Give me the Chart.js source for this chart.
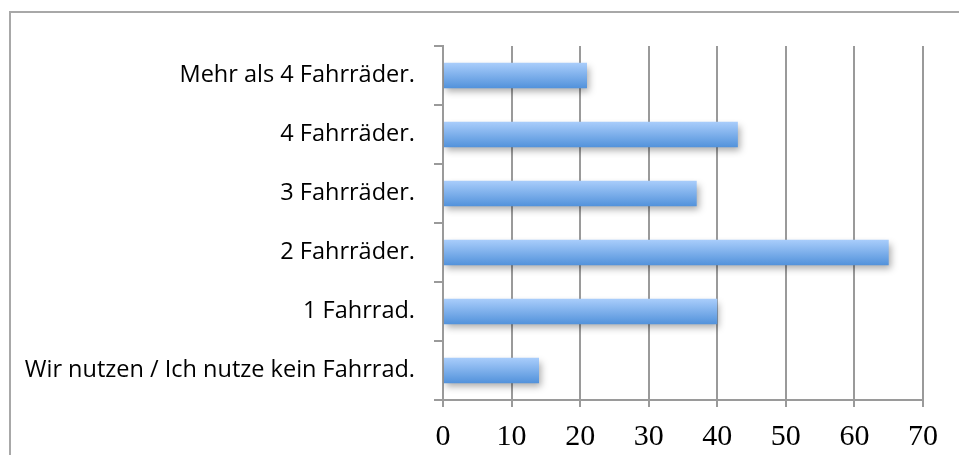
<!DOCTYPE html>
<html>
<head>
<meta charset="utf-8">
<script src="https://cdn.jsdelivr.net/npm/chart.js@4/dist/chart.umd.min.js"></script>
<style>
  html, body { margin: 0; padding: 0; background: #ffffff; overflow: hidden; }
  #frame { position: absolute; left: 9px; top: 11px; width: 1000px; height: 500px; border: 2px solid #a8a8a8; box-sizing: border-box; }
  #wrap { position: absolute; left: 0; top: 0; width: 959px; height: 455px; }
</style>
</head>
<body>
<div id="frame"></div>
<div id="wrap"><canvas id="c" width="959" height="455"></canvas></div>
<script>
const categories = [
  "Mehr als 4 Fahrräder.",
  "4 Fahrräder.",
  "3 Fahrräder.",
  "2 Fahrräder.",
  "1 Fahrrad.",
  "Wir nutzen / Ich nutze kein Fahrrad."
];
const values = [21, 43, 37, 65, 40, 14];
const xTicks = [0, 10, 20, 30, 40, 50, 60, 70];

const BAR_PCT = 0.43;

function barGradient(context) {
  const chart = context.chart;
  const yScale = chart.scales.y;
  if (!yScale || !chart.chartArea || context.dataIndex === undefined) return '#7aaef0';
  const center = yScale.getPixelForValue(context.dataIndex);
  const catH = (yScale.bottom - yScale.top) / categories.length;
  const half = catH * BAR_PCT / 2;
  const g = chart.ctx.createLinearGradient(0, center - half, 0, center + half);
  g.addColorStop(0, '#a9cdfb');
  g.addColorStop(1, '#5292db');
  return g;
}

const shadowPlugin = {
  id: 'shadowPlugin',
  beforeDatasetsDraw(chart) {
    const ctx = chart.ctx;
    ctx.save();
    ctx.shadowColor = 'rgba(0,0,0,0.33)';
    ctx.shadowBlur = 7;
    ctx.shadowOffsetX = 2;
    ctx.shadowOffsetY = 4;
  },
  afterDatasetsDraw(chart) {
    chart.ctx.restore();
  }
};

new Chart(document.getElementById('c'), {
  type: 'bar',
  data: {
    labels: categories,
    datasets: [{
      data: values,
      backgroundColor: barGradient,
      borderWidth: 0,
      categoryPercentage: 1,
      barPercentage: BAR_PCT
    }]
  },
  plugins: [shadowPlugin],
  options: {
    indexAxis: 'y',
    responsive: false,
    animation: false,
    events: [],
    layout: { padding: { top: 46, right: 36, left: 0, bottom: 0 } },
    plugins: { legend: { display: false }, tooltip: { enabled: false } },
    scales: {
      x: {
        min: 0, max: 70,
        afterBuildTicks(axis) { axis.ticks = xTicks.map(v => ({ value: v })); },
        afterFit(axis) { axis.height = 55; },
        border: { display: true, color: '#9a9a9a', width: 2 },
        grid: { color: '#9a9a9a', lineWidth: 2, drawTicks: true, tickLength: 7 },
        ticks: {
          color: '#000000',
          padding: 12,
          font: { family: '"Liberation Serif", "DejaVu Serif", serif', size: 30 }
        }
      },
      y: {
        afterFit(axis) { axis.width = 443; },
        border: { display: true, color: '#9a9a9a', width: 2 },
        grid: { offset: true, drawOnChartArea: false, drawTicks: true, tickLength: 9, color: '#9a9a9a', lineWidth: 2 },
        ticks: {
          color: '#000000',
          padding: 19,
          font: { family: '"Open Sans", Lato, sans-serif', size: 23.5 }
        }
      }
    }
  }
});
</script>
</body>
</html>
